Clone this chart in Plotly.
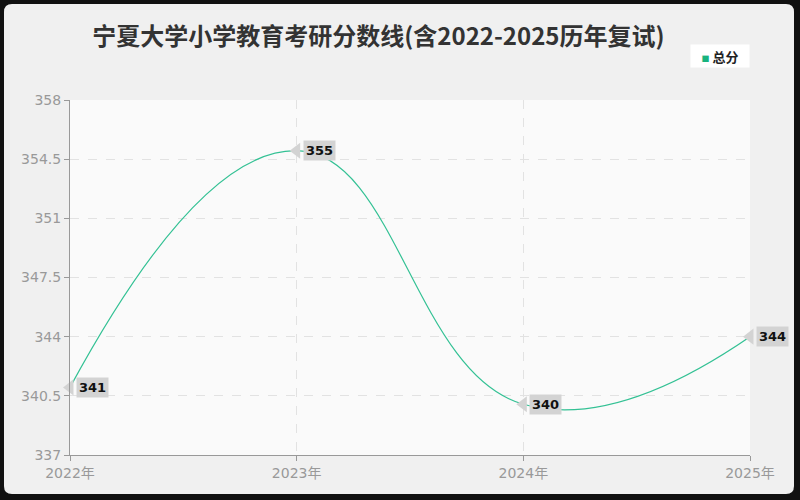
import plotly.graph_objects as go

# chart data
years = ["2022年", "2023年", "2024年", "2025年"]
scores = [341, 355, 340, 344]
y_ticks = [337, 340.5, 344, 347.5, 351, 354.5, 358]

line_color = "#33c194"
box_color = "#d3d3d3"

fig = go.Figure()

# main smoothed line
fig.add_trace(go.Scatter(
    x=years, y=scores, mode="lines",
    line=dict(color=line_color, width=1.2, shape="spline", smoothing=1.3),
    showlegend=False, hoverinfo="x+y"
))

# little arrow heads of the value labels
fig.add_trace(go.Scatter(
    x=years, y=scores, mode="markers",
    marker=dict(symbol="triangle-left", size=14, color=box_color),
    showlegend=False, hoverinfo="skip", cliponaxis=False
))

# value labels
for x, y in zip(years, scores):
    fig.add_annotation(
        x=x, y=y, text="<b>%d</b>" % y, showarrow=False,
        xanchor="left", yanchor="middle", xshift=6,
        bgcolor=box_color, borderpad=2,
        font=dict(size=13, color="#111", family="DejaVu Sans")
    )

# legend box (square + name)
fig.add_annotation(
    xref="paper", yref="paper", x=0.9118, y=1.124,
    xanchor="left", yanchor="middle", showarrow=False,
    text="<span style='color:#18b37e;font-size:8px'>■</span> <b>总分</b>",
    bgcolor="#ffffff", width=54, height=18, borderpad=2, align="center",
    font=dict(size=13, color="#222", family="Noto Sans CJK SC")
)

# rounded light card on a dark frame
fig.add_shape(
    type="path", xref="paper", yref="paper", layer="below",
    path="M -0.0853,1.27042 L 1.05295,1.27042 Q 1.06471,1.27042 1.06471,1.24788 "
         "L 1.06471,-0.08732 Q 1.06471,-0.10986 1.05295,-0.10986 "
         "L -0.0853,-0.10986 Q -0.09706,-0.10986 -0.09706,-0.08732 "
         "L -0.09706,1.24788 Q -0.09706,1.27042 -0.0853,1.27042 Z",
    fillcolor="#f0f0f0", line=dict(width=0)
)
# plot area background on top of the card
fig.add_shape(
    type="rect", xref="paper", yref="paper", layer="below",
    x0=0, x1=1, y0=0, y1=1, fillcolor="#fafafa", line=dict(width=0)
)

fig.update_layout(
    width=800, height=500,
    margin=dict(l=70, r=50, t=100, b=45),
    paper_bgcolor="#111111",
    plot_bgcolor="#fafafa",
    showlegend=False,
    title=dict(
        text="<b>宁夏大学小学教育考研分数线(含2022-2025历年复试)</b>",
        x=0.473, xanchor="center", y=0.926, yanchor="middle",
        font=dict(size=24, color="#333", family="Noto Sans CJK SC")
    ),
    font=dict(family="DejaVu Sans, Noto Sans CJK SC")
)

fig.update_xaxes(
    type="category", range=[0, 3],
    showline=True, linecolor="#999", linewidth=1,
    ticks="outside", tickcolor="#999", ticklen=5,
    showgrid=True, gridcolor="#e2e2e2", griddash="dash",
    tickfont=dict(size=14, color="#999"),
    zeroline=False
)

fig.update_yaxes(
    range=[337, 358], tickvals=y_ticks,
    ticktext=[("%g" % v) for v in y_ticks],
    showline=True, linecolor="#999", linewidth=1,
    ticks="outside", tickcolor="#999", ticklen=5,
    showgrid=True, gridcolor="#e2e2e2", griddash="dash",
    tickfont=dict(size=14, color="#999"),
    zeroline=False
)

fig.write_html(
    "out.html",
    config={"displayModeBar": False},
    post_script="document.body.style.margin='0';document.body.style.background='#111';"
)
